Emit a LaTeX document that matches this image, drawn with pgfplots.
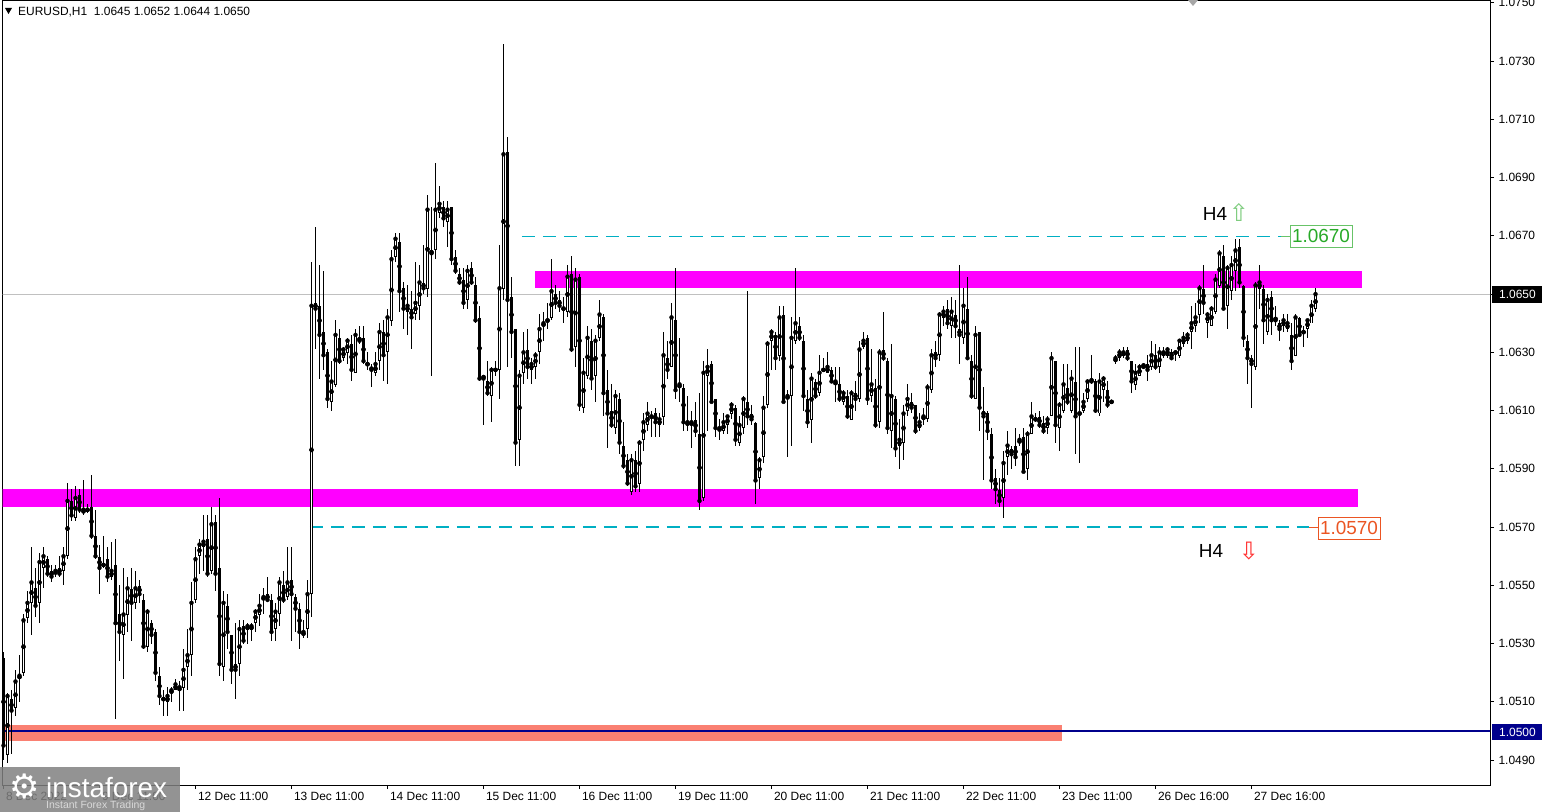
\documentclass[border=0pt]{standalone}
\usepackage{fontspec}
\setmainfont{Liberation Sans}
\newfontfamily\dejavu{DejaVu Sans}
\usepackage{pgfplots}
\usepackage{pgfplotstable}
\pgfplotsset{compat=1.18}

\definecolor{mtcyan}{RGB}{0,175,195}
\definecolor{mtgreen}{RGB}{40,170,40}
\definecolor{mtorange}{RGB}{235,85,35}
\definecolor{mtsalmon}{RGB}{250,128,114}
\definecolor{mtnavy}{RGB}{0,0,140}
\definecolor{mtmagenta}{RGB}{255,0,255}
\definecolor{mtgrid}{RGB}{192,192,192}

% EURUSD H1 candles, one row per hour: open high low close
\pgfplotstableread{
o h l c
1.0525 1.0527 1.0490 1.0495
1.0492 1.0513 1.0489 1.0512
1.0511 1.0514 1.0492 1.0507
1.0508 1.0521 1.0505 1.0517
1.0518 1.0526 1.0510 1.0519
1.0520 1.0540 1.0519 1.0538
1.0539 1.0548 1.0537 1.0544
1.0544 1.0563 1.0533 1.0551
1.0549 1.0556 1.0539 1.0543
1.0544 1.0561 1.0537 1.0558
1.0556 1.0563 1.0549 1.0560
1.0559 1.0560 1.0553 1.0554
1.0555 1.0557 1.0551 1.0553
1.0554 1.0557 1.0553 1.0555
1.0556 1.0560 1.0553 1.0554
1.0555 1.0563 1.0550 1.0560
1.0560 1.0585 1.0559 1.0579
1.0579 1.0583 1.0572 1.0574
1.0573 1.0584 1.0572 1.0580
1.0581 1.0583 1.0575 1.0576
1.0575 1.0586 1.0574 1.0576
1.0576 1.0578 1.0575 1.0576
1.0577 1.0588 1.0566 1.0567
1.0567 1.0576 1.0559 1.0560
1.0560 1.0564 1.0547 1.0556
1.0557 1.0567 1.0556 1.0557
1.0559 1.0563 1.0551 1.0553
1.0553 1.0565 1.0552 1.0555
1.0557 1.0566 1.0504 1.0537
1.0540 1.0550 1.0524 1.0534
1.0533 1.0556 1.0518 1.0540
1.0540 1.0553 1.0534 1.0549
1.0549 1.0556 1.0531 1.0544
1.0544 1.0555 1.0542 1.0549
1.0550 1.0552 1.0544 1.0547
1.0545 1.0547 1.0528 1.0529
1.0529 1.0542 1.0527 1.0541
1.0537 1.0538 1.0530 1.0533
1.0534 1.0535 1.0517 1.0520
1.0519 1.0522 1.0509 1.0512
1.0511 1.0514 1.0505 1.0511
1.0510 1.0515 1.0505 1.0512
1.0513 1.0515 1.0510 1.0514
1.0514 1.0518 1.0514 1.0516
1.0514 1.0517 1.0507 1.0515
1.0515 1.0528 1.0507 1.0521
1.0522 1.0535 1.0514 1.0526
1.0526 1.0551 1.0519 1.0544
1.0545 1.0563 1.0544 1.0559
1.0560 1.0566 1.0554 1.0564
1.0563 1.0574 1.0555 1.0565
1.0566 1.0574 1.0553 1.0554
1.0555 1.0577 1.0554 1.0571
1.0572 1.0574 1.0548 1.0554
1.0556 1.0580 1.0519 1.0523
1.0522 1.0548 1.0517 1.0544
1.0543 1.0547 1.0528 1.0534
1.0533 1.0533 1.0516 1.0521
1.0523 1.0537 1.0511 1.0521
1.0523 1.0538 1.0519 1.0535
1.0536 1.0538 1.0530 1.0531
1.0535 1.0537 1.0530 1.0536
1.0535 1.0537 1.0531 1.0536
1.0537 1.0542 1.0534 1.0541
1.0540 1.0547 1.0536 1.0543
1.0545 1.0549 1.0540 1.0546
1.0547 1.0553 1.0545 1.0545
1.0545 1.0547 1.0531 1.0534
1.0535 1.0544 1.0531 1.0541
1.0540 1.0553 1.0536 1.0551
1.0550 1.0555 1.0544 1.0545
1.0546 1.0563 1.0545 1.0551
1.0552 1.0563 1.0531 1.0547
1.0546 1.0547 1.0534 1.0542
1.0542 1.0544 1.0528 1.0534
1.0533 1.0538 1.0532 1.0534
1.0535 1.0552 1.0532 1.0547
1.0547 1.0661 1.0539 1.0646
1.0647 1.0673 1.0631 1.0645
1.0646 1.0660 1.0621 1.0636
1.0637 1.0658 1.0624 1.0629
1.0630 1.0631 1.0611 1.0614
1.0613 1.0627 1.0610 1.0620
1.0619 1.0641 1.0618 1.0636
1.0635 1.0638 1.0626 1.0627
1.0628 1.0632 1.0627 1.0631
1.0630 1.0635 1.0626 1.0634
1.0633 1.0636 1.0620 1.0624
1.0623 1.0638 1.0623 1.0636
1.0635 1.0639 1.0633 1.0634
1.0635 1.0639 1.0626 1.0627
1.0626 1.0630 1.0624 1.0626
1.0625 1.0626 1.0618 1.0624
1.0623 1.0630 1.0622 1.0626
1.0627 1.0640 1.0624 1.0637
1.0637 1.0641 1.0620 1.0629
1.0630 1.0645 1.0619 1.0642
1.0641 1.0665 1.0639 1.0662
1.0663 1.0671 1.0661 1.0669
1.0668 1.0671 1.0644 1.0651
1.0652 1.0654 1.0638 1.0645
1.0644 1.0653 1.0636 1.0646
1.0645 1.0651 1.0631 1.0642
1.0643 1.0661 1.0641 1.0647
1.0646 1.0660 1.0641 1.0654
1.0654 1.0667 1.0650 1.0652
1.0652 1.0684 1.0649 1.0679
1.0665 1.0680 1.0622 1.0664
1.0665 1.0695 1.0662 1.0679
1.0678 1.0687 1.0676 1.0681
1.0680 1.0682 1.0673 1.0676
1.0675 1.0682 1.0666 1.0679
1.0680 1.0680 1.0660 1.0662
1.0663 1.0665 1.0657 1.0658
1.0657 1.0659 1.0653 1.0654
1.0655 1.0659 1.0645 1.0647
1.0648 1.0660 1.0645 1.0658
1.0659 1.0661 1.0653 1.0654
1.0653 1.0656 1.0640 1.0641
1.0642 1.0646 1.0620 1.0621
1.0622 1.0622 1.0605 1.0621
1.0620 1.0627 1.0615 1.0616
1.0615 1.0625 1.0606 1.0624
1.0624 1.0627 1.0622 1.0624
1.0624 1.0667 1.0614 1.0652
1.0652 1.0736 1.0648 1.0698
1.0699 1.0704 1.0625 1.0648
1.0649 1.0656 1.0628 1.0637
1.0638 1.0638 1.0591 1.0599
1.0600 1.0624 1.0591 1.0622
1.0623 1.0637 1.0619 1.0630
1.0631 1.0638 1.0621 1.0625
1.0624 1.0628 1.0619 1.0626
1.0625 1.0630 1.0621 1.0629
1.0630 1.0643 1.0626 1.0638
1.0639 1.0644 1.0634 1.0640
1.0641 1.0647 1.0638 1.0641
1.0642 1.0662 1.0641 1.0651
1.0650 1.0653 1.0645 1.0647
1.0648 1.0651 1.0644 1.0646
1.0645 1.0649 1.0640 1.0645
1.0644 1.0660 1.0642 1.0656
1.0657 1.0663 1.0630 1.0631
1.0632 1.0659 1.0625 1.0655
1.0656 1.0657 1.0610 1.0612
1.0611 1.0628 1.0609 1.0623
1.0622 1.0639 1.0621 1.0635
1.0634 1.0638 1.0617 1.0621
1.0622 1.0636 1.0613 1.0634
1.0635 1.0648 1.0634 1.0643
1.0642 1.0643 1.0608 1.0616
1.0617 1.0624 1.0597 1.0609
1.0610 1.0619 1.0604 1.0605
1.0604 1.0617 1.0602 1.0615
1.0614 1.0616 1.0595 1.0599
1.0598 1.0606 1.0590 1.0591
1.0593 1.0595 1.0584 1.0585
1.0582 1.0595 1.0581 1.0593
1.0593 1.0596 1.0582 1.0584
1.0585 1.0600 1.0582 1.0599
1.0600 1.0609 1.0596 1.0606
1.0605 1.0613 1.0603 1.0609
1.0608 1.0610 1.0601 1.0608
1.0609 1.0611 1.0601 1.0606
1.0605 1.0609 1.0601 1.0607
1.0608 1.0637 1.0605 1.0629
1.0628 1.0634 1.0621 1.0624
1.0625 1.0647 1.0625 1.0642
1.0641 1.0659 1.0614 1.0617
1.0618 1.0635 1.0613 1.0619
1.0618 1.0619 1.0603 1.0606
1.0605 1.0615 1.0603 1.0606
1.0605 1.0610 1.0597 1.0606
1.0607 1.0613 1.0601 1.0603
1.0602 1.0616 1.0576 1.0579
1.0580 1.0627 1.0579 1.0623
1.0622 1.0631 1.0603 1.0625
1.0626 1.0627 1.0613 1.0613
1.0614 1.0614 1.0601 1.0604
1.0603 1.0607 1.0600 1.0604
1.0603 1.0609 1.0602 1.0606
1.0605 1.0608 1.0602 1.0608
1.0609 1.0613 1.0607 1.0612
1.0611 1.0612 1.0598 1.0600
1.0599 1.0608 1.0598 1.0605
1.0604 1.0615 1.0602 1.0614
1.0613 1.0651 1.0605 1.0608
1.0609 1.0612 1.0605 1.0607
1.0606 1.0606 1.0578 1.0586
1.0587 1.0594 1.0583 1.0593
1.0594 1.0615 1.0592 1.0611
1.0612 1.0634 1.0611 1.0633
1.0634 1.0638 1.0624 1.0637
1.0636 1.0637 1.0624 1.0628
1.0629 1.0646 1.0627 1.0642
1.0643 1.0646 1.0613 1.0613
1.0614 1.0617 1.0594 1.0615
1.0615 1.0642 1.0598 1.0635
1.0634 1.0659 1.0633 1.0640
1.0639 1.0642 1.0634 1.0635
1.0634 1.0636 1.0610 1.0615
1.0614 1.0617 1.0604 1.0606
1.0607 1.0623 1.0599 1.0621
1.0620 1.0621 1.0614 1.0615
1.0616 1.0629 1.0615 1.0623
1.0624 1.0628 1.0624 1.0624
1.0623 1.0630 1.0623 1.0625
1.0624 1.0625 1.0620 1.0620
1.0619 1.0625 1.0613 1.0620
1.0619 1.0625 1.0613 1.0614
1.0613 1.0617 1.0612 1.0616
1.0615 1.0617 1.0607 1.0608
1.0607 1.0617 1.0607 1.0616
1.0616 1.0620 1.0610 1.0614
1.0614 1.0634 1.0613 1.0631
1.0632 1.0637 1.0631 1.0634
1.0635 1.0636 1.0612 1.0614
1.0615 1.0631 1.0613 1.0619
1.0618 1.0621 1.0604 1.0605
1.0606 1.0631 1.0604 1.0630
1.0631 1.0644 1.0627 1.0628
1.0627 1.0628 1.0602 1.0604
1.0603 1.0633 1.0597 1.0615
1.0614 1.0615 1.0594 1.0597
1.0598 1.0607 1.0590 1.0600
1.0599 1.0612 1.0593 1.0609
1.0610 1.0619 1.0608 1.0614
1.0613 1.0616 1.0609 1.0611
1.0612 1.0612 1.0602 1.0603
1.0604 1.0609 1.0603 1.0606
1.0607 1.0611 1.0605 1.0608
1.0607 1.0619 1.0606 1.0618
1.0617 1.0631 1.0616 1.0629
1.0630 1.0634 1.0625 1.0628
1.0629 1.0644 1.0627 1.0643
1.0642 1.0646 1.0639 1.0644
1.0645 1.0648 1.0638 1.0640
1.0639 1.0649 1.0635 1.0644
1.0643 1.0648 1.0635 1.0639
1.0638 1.0660 1.0626 1.0636
1.0635 1.0652 1.0633 1.0646
1.0645 1.0656 1.0628 1.0628
1.0627 1.0629 1.0614 1.0615
1.0614 1.0639 1.0614 1.0636
1.0637 1.0637 1.0603 1.0611
1.0610 1.0618 1.0586 1.0608
1.0609 1.0610 1.0600 1.0603
1.0602 1.0604 1.0583 1.0586
1.0587 1.0590 1.0578 1.0583
1.0583 1.0587 1.0577 1.0579
1.0580 1.0596 1.0573 1.0592
1.0594 1.0603 1.0588 1.0598
1.0597 1.0598 1.0590 1.0595
1.0598 1.0604 1.0591 1.0594
1.0599 1.0602 1.0598 1.0600
1.0601 1.0604 1.0589 1.0589
1.0590 1.0603 1.0586 1.0602
1.0602 1.0613 1.0602 1.0608
1.0607 1.0609 1.0606 1.0607
1.0608 1.0610 1.0604 1.0605
1.0606 1.0608 1.0602 1.0603
1.0604 1.0608 1.0602 1.0607
1.0608 1.0630 1.0608 1.0628
1.0627 1.0627 1.0599 1.0605
1.0604 1.0613 1.0596 1.0612
1.0610 1.0626 1.0609 1.0619
1.0618 1.0626 1.0612 1.0613
1.0610 1.0624 1.0609 1.0621
1.0620 1.0632 1.0595 1.0608
1.0609 1.0632 1.0592 1.0609
1.0610 1.0616 1.0609 1.0613
1.0614 1.0621 1.0613 1.0620
1.0621 1.0629 1.0619 1.0620
1.0620 1.0621 1.0609 1.0610
1.0609 1.0623 1.0608 1.0620
1.0617 1.0622 1.0613 1.0621
1.0617 1.0620 1.0611 1.0612
1.0613 1.0613 1.0613 1.0613
1.0627 1.0629 1.0626 1.0628
1.0628 1.0631 1.0627 1.0630
1.0629 1.0632 1.0628 1.0630
1.0631 1.0632 1.0627 1.0628
1.0627 1.0627 1.0616 1.0620
1.0619 1.0626 1.0617 1.0623
1.0622 1.0626 1.0622 1.0625
1.0626 1.0626 1.0625 1.0625
1.0626 1.0629 1.0620 1.0624
1.0625 1.0634 1.0624 1.0629
1.0629 1.0633 1.0624 1.0625
1.0625 1.0632 1.0623 1.0630
1.0629 1.0632 1.0628 1.0630
1.0629 1.0632 1.0628 1.0631
1.0630 1.0631 1.0628 1.0628
1.0630 1.0630 1.0627 1.0630
1.0629 1.0634 1.0628 1.0634
1.0633 1.0637 1.0632 1.0635
1.0634 1.0637 1.0633 1.0636
1.0637 1.0646 1.0631 1.0640
1.0639 1.0647 1.0637 1.0642
1.0643 1.0653 1.0640 1.0652
1.0652 1.0660 1.0643 1.0647
1.0640 1.0644 1.0635 1.0643
1.0639 1.0646 1.0639 1.0645
1.0644 1.0657 1.0643 1.0655
1.0653 1.0665 1.0652 1.0664
1.0663 1.0667 1.0645 1.0645
1.0646 1.0660 1.0638 1.0659
1.0651 1.0663 1.0648 1.0660
1.0658 1.0669 1.0651 1.0665
1.0666 1.0669 1.0652 1.0654
1.0653 1.0653 1.0632 1.0635
1.0634 1.0636 1.0619 1.0628
1.0628 1.0629 1.0611 1.0626
1.0625 1.0654 1.0624 1.0653
1.0652 1.0660 1.0645 1.0654
1.0652 1.0653 1.0633 1.0641
1.0637 1.0650 1.0636 1.0648
1.0649 1.0651 1.0636 1.0641
1.0642 1.0646 1.0639 1.0641
1.0640 1.0641 1.0634 1.0638
1.0639 1.0643 1.0637 1.0641
1.0638 1.0643 1.0637 1.0640
1.0636 1.0640 1.0624 1.0627
1.0629 1.0643 1.0629 1.0642
1.0642 1.0642 1.0636 1.0636
1.0637 1.0639 1.0632 1.0637
1.0638 1.0641 1.0635 1.0641
1.0640 1.0648 1.0640 1.0646
1.0645 1.0652 1.0644 1.0650
}\bars

\begin{document}
\begin{tikzpicture}
\useasboundingbox (0,0) rectangle (1542bp,812bp);
\begin{axis}[
    at={(2.5bp,27bp)}, anchor=south west,
    scale only axis,
    width=1487.5bp, height=784.5bp,
    xmin=-0.25, xmax=371.625,
    ymin=1.048145, ymax=1.07508,
    axis line style={line width=1bp, black},
    tick align=outside,
    major tick length=4bp,
    tick style={black, line width=0.8bp},
    ytick={1.0490,1.0510,1.0530,1.0550,1.0570,1.0590,1.0610,1.0630,1.0650,1.0670,1.0690,1.0710,1.0730,1.0750},
    ytick pos=right, yticklabel pos=right,
    scaled y ticks=false,
    /pgf/number format/fixed,
    /pgf/number format/fixed zerofill,
    /pgf/number format/precision=4,
    /pgf/number format/assume math mode=true,
    yticklabel style={font=\fontsize{12}{14}\selectfont, anchor=west, xshift=1bp},
    xtick={0,24,48,72,96,120,144,168,192,216,240,264,288,312},
    xticklabels={8 Dec 2022,9 Dec 11:00,12 Dec 11:00,13 Dec 11:00,14 Dec 11:00,15 Dec 11:00,16 Dec 11:00,19 Dec 11:00,20 Dec 11:00,21 Dec 11:00,22 Dec 11:00,23 Dec 11:00,26 Dec 16:00,27 Dec 16:00},
    xtick pos=bottom,
    xticklabel style={font=\fontsize{12}{14}\selectfont, anchor=north west, xshift=-1bp},
]
% levels and zones behind the candles
\draw[mtgrid, line width=0.8bp] (axis cs:-1,1.0650) -- (axis cs:380,1.0650);
\fill[mtsalmon] (axis cs:0.4,1.04966) rectangle (axis cs:264.6,1.0502);
\draw[mtnavy, line width=1.6bp] (axis cs:-1,1.0500) -- (axis cs:380,1.0500);
\fill[mtmagenta] (axis cs:-1,1.0577) rectangle (axis cs:338.6,1.0583);
\fill[mtmagenta] (axis cs:132.9,1.0652) rectangle (axis cs:339.6,1.0658);
\draw[mtcyan, line width=1.2bp, dash pattern=on 13bp off 8bp] (axis cs:129.6,1.066975) -- (axis cs:319.4,1.066975);
\draw[mtgreen!70, line width=1bp] (axis cs:319.4,1.066975) -- (axis cs:321.6,1.066975);
\draw[mtcyan, line width=1.2bp, dash pattern=on 13bp off 8bp] (axis cs:76.6,1.0570) -- (axis cs:326.4,1.0570);
\draw[mtorange, line width=1bp] (axis cs:326.4,1.0570) -- (axis cs:328.6,1.0570);

% wicks
\addplot[only marks, mark=none, forget plot,
    error bars/.cd, y dir=both, y explicit, error mark=none,
    error bar style={line width=1bp, black}]
    table[x expr=\coordindex, y=c,
          y error plus expr=\thisrow{h}-\thisrow{c},
          y error minus expr=\thisrow{c}-\thisrow{l}] {\bars};
% bodies
\addplot[only marks, mark=none, forget plot,
    error bars/.cd, y dir=both, y explicit, error mark=none,
    error bar style={line width=3bp, black}]
    table[x expr=\coordindex, y expr=(\thisrow{o}+\thisrow{c})/2,
          y error expr={max(abs(\thisrow{c}-\thisrow{o})/2,0.000018)}] {\bars};
% hollow inside of rising candles
\addplot[only marks, mark=none, forget plot,
    error bars/.cd, y dir=both, y explicit, error mark=none,
    error bar style={line width=1bp, white}]
    table[x expr=\coordindex, y expr=(\thisrow{o}+\thisrow{c})/2,
          y error expr={max((\thisrow{c}-\thisrow{o})/2-0.000034,0)}] {\bars};
\end{axis}

% price labels on the right scale
\fill[black] (1492bp,509bp) rectangle (1542bp,526bp);
\node[white, anchor=west, inner sep=0pt, font=\fontsize{12}{14}\selectfont] at (1499bp,517.5bp) {1.0650};
\fill[mtnavy] (1492bp,72bp) rectangle (1542bp,88bp);
\node[white, anchor=west, inner sep=0pt, font=\fontsize{12}{14}\selectfont] at (1499bp,80bp) {1.0500};

% level tags
\node[draw=mtgreen!70, line width=0.8bp, text=mtgreen, fill=white, minimum width=62bp, minimum height=22bp, inner sep=0pt, font=\fontsize{19}{21}\selectfont] at (1321bp,576bp) {1.0670};
\node[draw=mtorange, line width=0.8bp, text=mtorange, fill=white, minimum width=62bp, minimum height=22bp, inner sep=0pt, font=\fontsize{19}{21}\selectfont] at (1349bp,284bp) {1.0570};
\node[font=\fontsize{19}{21}\selectfont, inner sep=0pt] at (1215bp,598bp) {H4};
\node[text=mtgreen!60, font=\dejavu\fontsize{24}{26}\selectfont, inner sep=0pt] at (1239bp,600bp) {⇧};
\node[font=\fontsize{19}{21}\selectfont, inner sep=0pt] at (1211bp,261bp) {H4};
\node[text=red!80, font=\dejavu\fontsize{24}{26}\selectfont, inner sep=0pt] at (1249bp,261bp) {⇩};

% header
\fill[black] (5bp,804bp) -- (12bp,804bp) -- (8.5bp,798bp) -- cycle;
\node[anchor=west, inner sep=0pt, font=\fontsize{12}{14}\selectfont] at (18bp,800bp) {EURUSD,H1\ \ 1.0645 1.0652 1.0644 1.0650};
\fill[gray!70] (1188bp,812bp) -- (1198bp,812bp) -- (1193bp,806bp) -- cycle;

% logo
\fill[black!50, opacity=0.85] (0,0) rectangle (180bp,45bp);
\node[white, font=\dejavu\fontsize{34}{36}\selectfont, inner sep=0pt] at (25bp,26bp) {⚙};
\node[white, anchor=base west, inner sep=0pt, font=\fontsize{28}{30}\selectfont] at (46bp,15bp) {instaforex};
\node[black!15, anchor=base west, inner sep=0pt, font=\fontsize{10.5}{12}\selectfont] at (46bp,4bp) {Instant Forex Trading};
\end{tikzpicture}
\end{document}
